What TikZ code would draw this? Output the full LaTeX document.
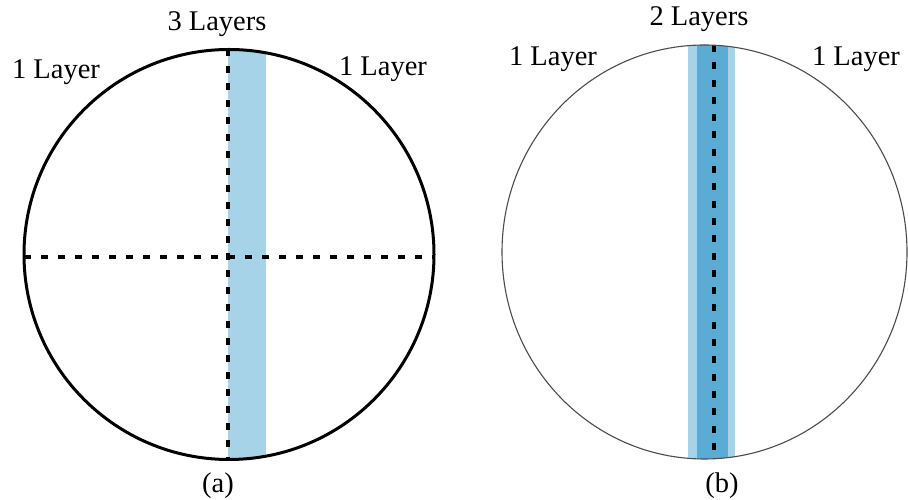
\documentclass[tikz,border=0pt]{standalone}
\usepackage{fontspec}
\setmainfont{Liberation Serif}
\definecolor{bandlight}{HTML}{A7D3E8}
\definecolor{banddark}{HTML}{5BACD4}
\begin{document}
\begin{tikzpicture}[x=1pt,y=1pt,
  lbl/.style={font=\fontsize{28.5}{32}\selectfont, inner sep=0pt},
  dashline/.style={line width=3.6pt, dash pattern=on 7pt off 10pt},
]
\useasboundingbox (0,0) rectangle (908,500);
\fill[white] (0,0) rectangle (908,500);
% ---- panel (a) ----
\coordinate (ca) at (229,245.5);
\begin{scope}
  \clip (ca) circle (205);
  \fill[bandlight] (228,0) rectangle (266,500);
\end{scope}
\coordinate (atop) at (228,450.5);
\coordinate (abot) at (228,40.5);
\coordinate (aleft) at (24,243);
\coordinate (aright) at (434,243);
\draw[dashline] (atop) -- (abot);
\draw[dashline] (aleft) -- (aright);
\draw[line width=3pt] (ca) circle (205);
\node[lbl] (l3) at (217,476) {3 Layers};
\node[lbl] (la1) at (56,428) {1 Layer};
\node[lbl] (la2) at (383,431) {1 Layer};
\node[lbl] (capa) at (218,14) {(a)};
% ---- panel (b) ----
\coordinate (cb) at (704.5,248);
\begin{scope}
  \clip (cb) ellipse (202.5 and 207);
  \fill[bandlight] (688,0) rectangle (735,500);
  \fill[banddark] (697,0) rectangle (728,500);
\end{scope}
\coordinate (btop) at (714,455);
\coordinate (bbot) at (714,41);
\draw[line width=3.4pt, dash pattern=on 7pt off 10.3pt] (btop) -- (bbot);
\draw[line width=1.1pt, black!70] (cb) ellipse (202.5 and 207);
\node[lbl] (l2) at (699,481) {2 Layers};
\node[lbl] (lb1) at (553,441) {1 Layer};
\node[lbl] (lb2) at (856,441) {1 Layer};
\node[lbl] (capb) at (722,14) {(b)};
\end{tikzpicture}
\end{document}
